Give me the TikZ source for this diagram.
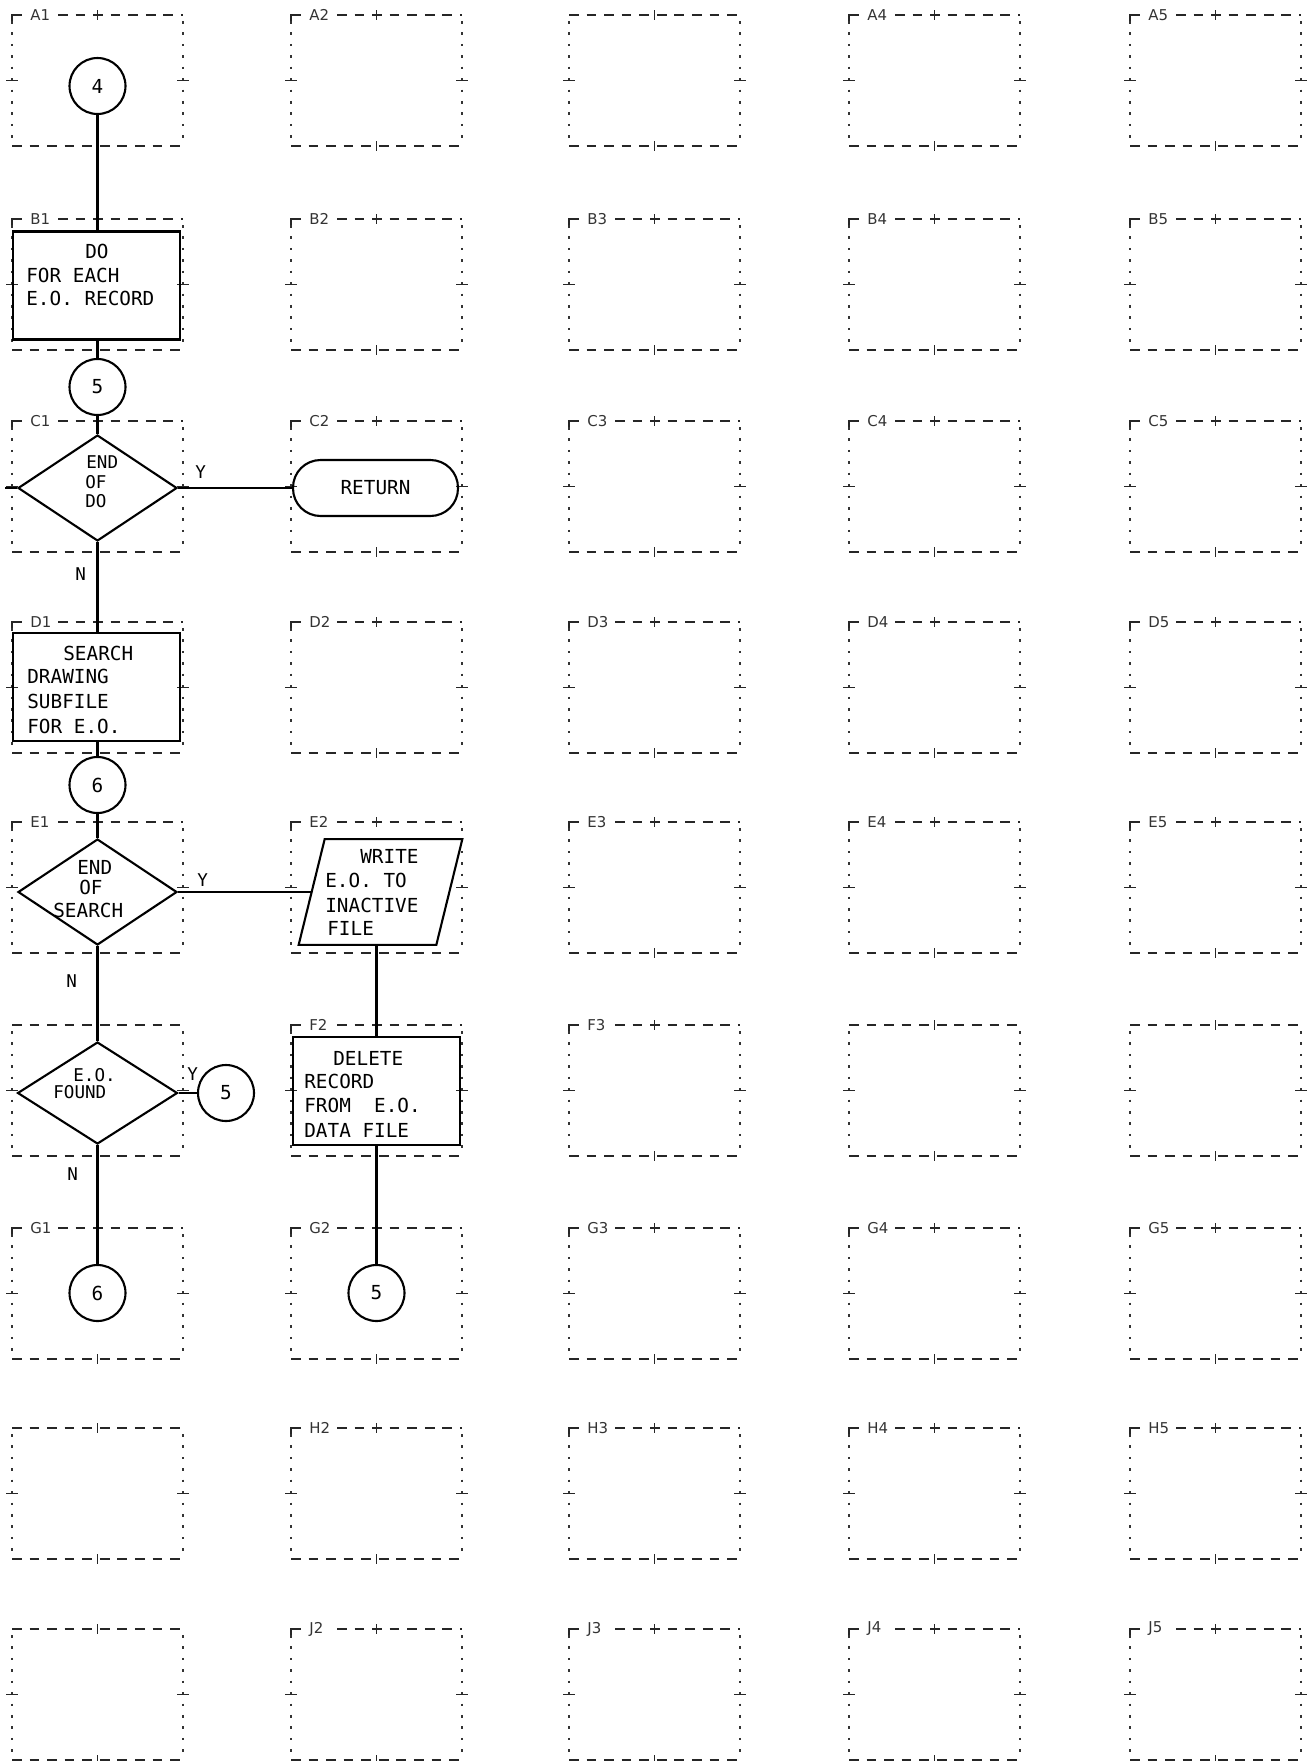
\documentclass[tikz,border=0pt]{standalone}
\usepackage{fontspec}
\newfontfamily\monof{DejaVu Sans Mono}
\newfontfamily\labf{DejaVu Sans}
\usetikzlibrary{shapes.geometric,calc}
\tikzset{
 flow/.style={line width=1.2pt, black},
 fbox/.style={draw, line width=1.2pt, minimum width=3.34cm, minimum height=2.16cm, inner sep=0pt},
 conn/.style={circle, draw, line width=1.2pt, minimum size=1.12cm, inner sep=0pt, font=\monof\fontsize{11}{13}\selectfont},
 dec/.style={diamond, draw, line width=1.2pt, inner sep=0pt},
 txt/.style={anchor=base west, inner sep=0pt, font=\monof\fontsize{11}{13}\selectfont},
 stxt/.style={anchor=base west, inner sep=0pt, font=\monof\fontsize{10}{12}\selectfont},
 mtxt/.style={anchor=base west, inner sep=0pt, font=\monof\fontsize{10}{12}\selectfont},
 gh/.style={line width=0.85pt, black!85, dash pattern=on 5.5pt off 4.5pt},
 gv/.style={line width=0.7pt, black!80, dash pattern=on 1.5pt off 5pt},
 gt/.style={line width=0.9pt, black!85},
 glab/.style={inner sep=0pt, font=\labf\fontsize{8.5}{9}\selectfont, text=black!80, anchor=west},
}
\newcommand\mygridbox[3]{%
 \draw[gh] (#1,#2+131) -- (#1+171,#2+131);
 \draw[gv] (#1,#2+6) -- (#1,#2+131);
 \draw[gv] (#1+171,#2+6) -- (#1+171,#2+131);
 \draw[gt] (#1-6,#2+65.5) -- (#1+6,#2+65.5);
 \draw[gt] (#1+165,#2+65.5) -- (#1+177,#2+65.5);
 \draw[gt] (#1+85.5,#2-5) -- (#1+85.5,#2+5);
 \draw[gt] (#1+85.5,#2+126) -- (#1+85.5,#2+136);
 \ifx&#3&\draw[gh] (#1,#2) -- (#1+171,#2);%
 \else
   \draw[gt] (#1,#2+6) -- (#1,#2) -- (#1+10,#2);
   \node[glab] (lab#3) at (#1+18,#2) {#3};
   \draw[gh] (#1+46,#2) -- (#1+171,#2);%
 \fi
}
\begin{document}
\begin{tikzpicture}[x=0.02cm,y=-0.02cm]
\useasboundingbox (0,0) rectangle (1315,1761);
% ---------- grid of reference boxes ----------
\mygridbox{12}{15}{A1}
\mygridbox{291}{15}{A2}
\mygridbox{569}{15}{}
\mygridbox{849}{15}{A4}
\mygridbox{1130}{15}{A5}
\mygridbox{12}{219}{B1}
\mygridbox{291}{219}{B2}
\mygridbox{569}{219}{B3}
\mygridbox{849}{219}{B4}
\mygridbox{1130}{219}{B5}
\mygridbox{12}{421}{C1}
\mygridbox{291}{421}{C2}
\mygridbox{569}{421}{C3}
\mygridbox{849}{421}{C4}
\mygridbox{1130}{421}{C5}
\mygridbox{12}{622}{D1}
\mygridbox{291}{622}{D2}
\mygridbox{569}{622}{D3}
\mygridbox{849}{622}{D4}
\mygridbox{1130}{622}{D5}
\mygridbox{12}{822}{E1}
\mygridbox{291}{822}{E2}
\mygridbox{569}{822}{E3}
\mygridbox{849}{822}{E4}
\mygridbox{1130}{822}{E5}
\mygridbox{12}{1025}{}
\mygridbox{291}{1025}{F2}
\mygridbox{569}{1025}{F3}
\mygridbox{849}{1025}{}
\mygridbox{1130}{1025}{}
\mygridbox{12}{1228}{G1}
\mygridbox{291}{1228}{G2}
\mygridbox{569}{1228}{G3}
\mygridbox{849}{1228}{G4}
\mygridbox{1130}{1228}{G5}
\mygridbox{12}{1428}{}
\mygridbox{291}{1428}{H2}
\mygridbox{569}{1428}{H3}
\mygridbox{849}{1428}{H4}
\mygridbox{1130}{1428}{H5}
\mygridbox{12}{1629}{}
\mygridbox{291}{1629}{J2}
\mygridbox{569}{1629}{J3}
\mygridbox{849}{1629}{J4}
\mygridbox{1130}{1629}{J5}
% ---------- flowchart ----------
\node[conn] (c4) at (97.5,86) {4};
\node[fbox] (b1) at (96.5,285.5) {};
\node[txt] (b1l1) at (85,258) {DO};
\node[txt] (b1l2) at (26,282) {FOR EACH};
\node[txt] (b1l3) at (26,305) {E.O. RECORD};
\node[conn] (c5a) at (97.5,387) {5};
\node[dec, minimum width=3.18cm, minimum height=2.12cm] (d1) at (97.5,488) {};
\node[stxt] (d1l1) at (86,468) {END};
\node[stxt] (d1l2) at (85,488) {OF};
\node[stxt] (d1l3) at (85,507) {DO};
\node[draw, line width=1.2pt, rounded corners=0.55cm, minimum width=3.3cm, minimum height=1.12cm, inner sep=0pt, font=\monof\fontsize{11}{13}\selectfont] (ret) at (375.5,488) {RETURN};
\node[fbox] (dd1) at (96.5,687) {};
\node[txt] (dd1l1) at (63,660) {SEARCH};
\node[txt] (dd1l2) at (27,683) {DRAWING};
\node[txt] (dd1l3) at (27,708) {SUBFILE};
\node[txt] (dd1l4) at (27,733) {FOR E.O.};
\node[conn] (c6a) at (97.5,785) {6};
\node[dec, minimum width=3.18cm, minimum height=2.12cm] (d2) at (97.5,892) {};
\node[txt] (d2l1) at (77,874) {END};
\node[txt] (d2l2) at (79,894) {OF};
\node[txt] (d2l3) at (53,917) {SEARCH};
\node[inner sep=0pt, minimum width=3.26cm, minimum height=2.1cm] (p1) at (380.5,892) {};
\draw[flow] (p1.south west) -- ($(p1.north west)+(26,0)$) -- (p1.north east) -- ($(p1.south east)+(-26,0)$) -- cycle;
\node[txt] (p1l1) at (360,863) {WRITE};
\node[txt] (p1l2) at (325,887) {E.O. TO};
\node[txt] (p1l3) at (325,912) {INACTIVE};
\node[txt] (p1l4) at (327,935) {FILE};
\coordinate (p1in) at ($(p1.west)+(13,0)$);
\node[dec, minimum width=3.2cm, minimum height=2.04cm] (d3) at (97.5,1093) {};
\node[mtxt] (d3l1) at (73,1081) {E.O.};
\node[mtxt] (d3l2) at (53,1098) {FOUND};
\node[conn] (c5b) at (226,1093) {5};
\node[fbox] (f2) at (376.5,1091) {};
\node[txt] (f2l1) at (333,1065) {DELETE};
\node[txt] (f2l2) at (304,1088) {RECORD};
\node[txt] (f2l3) at (304,1112) {FROM\ \ E.O.};
\node[txt] (f2l4) at (304,1137) {DATA FILE};
\node[conn] (c6b) at (97.5,1293) {6};
\node[conn] (c5c) at (376.5,1293) {5};
% Y / N labels
\node[stxt] (y1) at (195,478) {Y};
\node[stxt] (n1) at (75,580) {N};
\node[stxt] (y2) at (197,886) {Y};
\node[stxt] (n2) at (66,987) {N};
\node[stxt] (y3) at (187,1080) {Y};
\node[stxt] (n3) at (67,1180) {N};
% connectors
\draw[flow] (c4.south) -- (c4.south |- b1.north);
\draw[flow] (c5a.north |- b1.south) -- (c5a.north);
\draw[flow] (c5a.south) -- (d1.north);
\draw[flow] (d1.south) -- (d1.south |- dd1.north);
\draw[flow] (d1.east) -- (ret.west);
\draw[flow] (d1.west) -- ++(-12,0);
\draw[flow] (c6a.north |- dd1.south) -- (c6a.north);
\draw[flow] (c6a.south) -- (d2.north);
\draw[flow] (d2.east) -- (p1in);
\draw[flow] (d2.south) -- (d3.north);
\draw[flow] (f2.north |- p1.south) -- (f2.north);
\draw[flow] (d3.east) -- (c5b.west);
\draw[flow] (c6b.north) -- (d3.south);
\draw[flow] (f2.south) -- (c5c.north);
\end{tikzpicture}
\end{document}
